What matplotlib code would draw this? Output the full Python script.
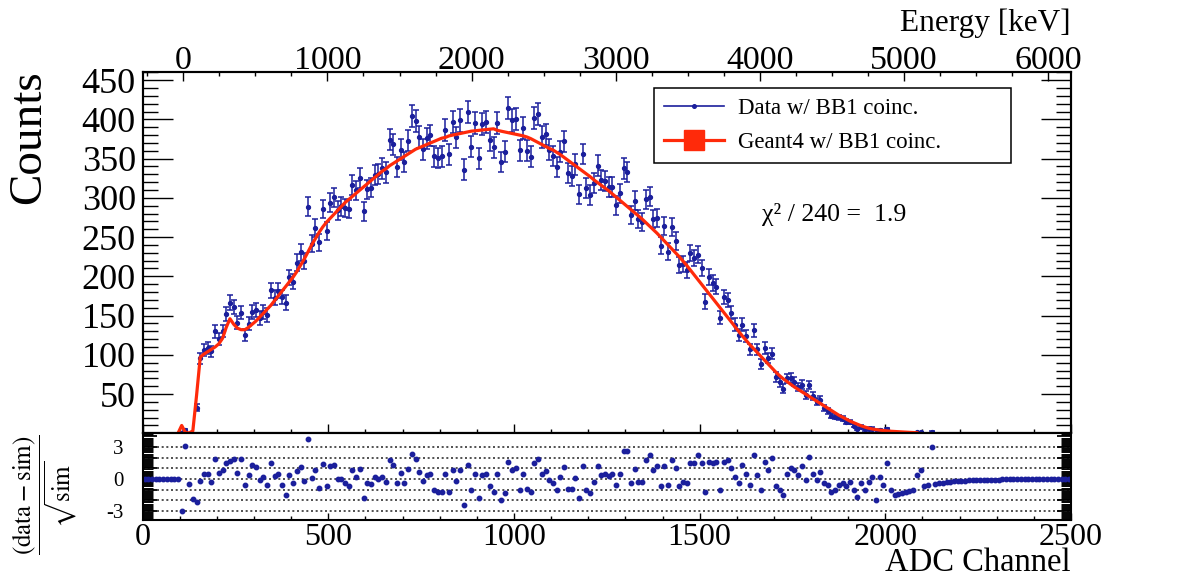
import numpy as np
import matplotlib.pyplot as plt
from matplotlib.lines import Line2D
from matplotlib.ticker import MultipleLocator, FixedLocator, FixedFormatter

plt.rcParams['font.family'] = ['Liberation Serif', 'DejaVu Serif']
plt.rcParams['mathtext.fontset'] = 'stix'

# ADC bins, 10 channels wide (bin centres)
adc = np.arange(5, 2500, 10)

# Geant4 spectrum with BB1 coincidence, counts per bin
sim = np.array([
    0, 0, 0, 0, 0, 0, 0, 0, 0, 0,
    10, 1, 0.5, 3, 48, 97, 101, 104, 107, 110,
    114, 121, 135, 146, 139, 134, 132, 132, 135, 139,
    143, 148, 153, 158, 163, 169, 175, 181, 187, 193,
    199, 206, 214, 222, 231, 240, 248, 256, 263, 269,
    274, 279, 284, 289, 294, 298, 302, 306, 310, 314,
    318, 322, 326, 330, 334, 337, 341, 344, 347, 350,
    353, 356, 359, 362, 364, 366, 368, 370, 372, 374,
    376, 377, 379, 380, 381, 382, 383, 384, 385, 385.5,
    386, 386.5, 387, 387.5, 388, 386, 385, 384, 383, 382,
    381, 380, 379, 377.5, 375.5, 373, 370.5, 368, 365.5, 363,
    361, 358, 355, 351.5, 348, 344.5, 341, 337.5, 334, 330.5,
    327, 323, 319.5, 316, 312.5, 309, 305, 301, 297, 293,
    289, 285, 281, 277, 273, 268.5, 264, 259.5, 255, 250,
    245, 240, 235, 230, 225, 219.5, 214, 208, 202, 196,
    190, 184, 178, 172, 166, 160, 154, 148, 142, 136,
    130, 124, 118.5, 113, 108, 103, 98, 93, 88, 83,
    78, 73.5, 69.5, 66, 62.5, 59, 56, 53, 50, 47,
    44, 41, 38, 35, 32, 29, 26, 23, 20.5, 18,
    15.5, 13.5, 11.5, 9.5, 8, 6.5, 5.5, 4.7, 4.0, 3.5,
    3.0, 2.6, 2.3, 2.0, 1.7, 1.45, 1.2, 1.0, 0.8, 0.62,
    0.48, 0.36, 0.27, 0.2, 0.15, 0.11, 0.08, 0.06, 0.045, 0.034,
    0.026, 0.02, 0.015, 0.012, 0.009, 0.007, 0.0055, 0.0043, 0.0034, 0.0027,
    0.0021, 0.0017, 0.0014, 0.0011, 0.0009, 0.0007, 0.0006, 0.0005, 0.0004, 0.0003,
    0.0003, 0.0002, 0.0002, 0.0002, 0.0001, 0.0001, 0.0001, 0.0001, 0.0001, 0.0001,
])

# (data - sim) / sqrt(sim) per bin
pull = np.array([
    0, 0, 0, 0, 0, 0, 0, 0, 0, 0,
    -3.0, 3.1, -0.5, -1.9, -2.2, -0.15, 0.5, 0.45, -0.25, 1.9,
    0.6, 0.85, 1.5, 1.7, 1.9, 0.6, 1.9, -0.56, 0.4, 1.3,
    1.15, -0.1, 0.15, -0.56, 1.5, 0.3, 0.5, -0.56, -1.5, 0.4,
    -0.4, 0.8, 1.15, -0.15, 3.8, 0.1, 0.85, -0.8, 1.4, -0.7,
    1.2, 1.3, 0.0, 0.0, -0.4, -0.7, 0.85, 0.2, 0.9, -1.75,
    -0.4, -0.5, 0.2, 0.0, 0.2, -0.25, 1.8, 1.3, -0.4, 0.6,
    -0.4, 0.9, 2.4, 1.9, 0.7, -0.2, 0.4, 0.5, -1.0, -1.2,
    -1.2, 0.5, -1.2, 0.85, -0.2, 0.85, -2.4, 1.3, -1.0, 0.5,
    -1.8, 0.4, 0.5, -0.7, -1.2, 0.5, -2.0, -1.3, 1.6, 0.85,
    1.0, -1.0, 0.5, -0.9, -1.2, 1.5, 1.9, 0.5, 0.8, -0.1,
    -0.4, -1.0, 0.2, 1.1, -0.9, -0.9, 0.1, -1.8, 1.2, -1.0,
    -1.3, -0.25, 1.2, 0.4, 0.5, 0.3, 0.5, -0.6, 0.5, 2.6,
    2.6, -0.4, 0.9, -0.25, -0.25, 1.8, 2.3, 0.85, 1.2, -0.7,
    1.2, -0.56, 1.8, 1.0, -0.7, -0.25, -0.4, 1.5, 1.5, 2.25,
    1.5, -1.2, 1.6, 1.5, 1.6, -1.0, 1.6, 1.8, 1.0, 0.2,
    -0.4, 1.3, 0.5, -0.56, 2.25, 0.4, -1.0, 1.6, 0.85, 2.0,
    -0.7, -1.0, -1.5, 0.5, 1.0, 0.85, 0.4, 1.2, -0.1, 2.1,
    0.5, -0.1, 0.7, -0.4, -0.56, -1.2, -1.0, -0.56, -0.4, -0.7,
    -0.25, -1.0, -1.7, -0.4, -1.0, -0.25, 0.2, -2.0, 0.2, -0.6,
    1.5, -1.0, -1.5, -1.4, -1.3, -1.2, -1.1, -1.0, 0.4, 0.85,
    -0.7, -0.6, 3.0, -0.45, -0.39, -0.33, -0.28, -0.24, -0.21, -0.18,
    -0.16, -0.14, -0.12, -0.11, -0.095, -0.084, -0.074, -0.066, -0.058, -0.052,
    -0.046, -0.041, -0.037, -0.033, -0.03, -0.027, -0.024, -0.022, -0.02, -0.018,
    -0.016, -0.015, -0.014, -0.013, -0.012, -0.011, -0.01, -0.01, -0.009, -0.009,
])

# energy calibration used for the top axis
kev_per_channel = 2.576
zero_channel = 109.3
# per-event weight of the data histogram (sets the error bars)
weight = 0.5

data = np.clip(sim + pull * np.sqrt(sim), 0, None)
err = np.sqrt(weight * data)

BLUE = '#1b1f9c'
RED = '#ff2a0a'

W, H = 1188, 577
fig = plt.figure(figsize=(W / 100, H / 100), dpi=100)


def fx(px):
    return px / W


def fy(py):
    return 1 - py / H


left, right = 142.7, 1071
top, mid, bottom = 72.3, 433.3, 520
ax = fig.add_axes([fx(left), fy(mid), fx(right) - fx(left), fy(top) - fy(mid)])
axr = fig.add_axes([fx(left), fy(bottom), fx(right) - fx(left), fy(mid) - fy(bottom)])

# main panel: data with error bars and simulation curve
shown = data > 0.3
ax.errorbar(adc[shown], data[shown], yerr=err[shown], fmt='o', ms=2.8,
            color=BLUE, ecolor=BLUE, elinewidth=1.1, capsize=2.0,
            capthick=1.1, zorder=2)
curve = (adc >= 95) & (adc <= 2090)
ax.plot(adc[curve], sim[curve], color=RED, lw=2.3, zorder=3)

ax.set_xlim(0, 2500)
ax.set_ylim(0, 460)
ax.xaxis.set_major_locator(MultipleLocator(500))
ax.xaxis.set_minor_locator(MultipleLocator(100))
ax.yaxis.set_major_locator(FixedLocator(range(50, 451, 50)))
ax.yaxis.set_minor_locator(MultipleLocator(10))
ax.tick_params(axis='x', which='both', direction='in', bottom=True, top=False,
               labelbottom=False)
ax.tick_params(axis='x', which='major', length=6.7, width=1.0)
ax.tick_params(axis='x', which='minor', length=3.2, width=1.0)
ax.tick_params(axis='y', which='both', direction='in', left=True, right=True,
               labelsize=26, pad=5)
ax.tick_params(axis='y', which='major', length=21.6, width=1.0)
ax.tick_params(axis='y', which='minor', length=10.8, width=1.0)

# top energy axis
axe = ax.twiny()
axe.set_xlim(-zero_channel * kev_per_channel,
             (2500 - zero_channel) * kev_per_channel)
axe.xaxis.set_major_locator(MultipleLocator(1000))
axe.xaxis.set_minor_locator(MultipleLocator(250))
axe.tick_params(axis='x', which='both', direction='in', top=True, bottom=False,
                labeltop=True, labelbottom=False, labelsize=24.5, pad=-3)
axe.tick_params(axis='x', which='major', length=6.7, width=1.0)
axe.tick_params(axis='x', which='minor', length=3.1, width=1.0)

# lower panel: normalised residuals
for lvl in range(-3, 4):
    axr.axhline(lvl, color='#333333', lw=1.2, ls=(0, (1.2, 1.6)), zorder=0)
axr.plot(adc, pull, 'o', ms=3.2, color=BLUE, ls='none', zorder=2)
axr.set_xlim(0, 2500)
axr.set_ylim(-3.85, 4.3)
axr.xaxis.set_major_locator(MultipleLocator(500))
axr.xaxis.set_minor_locator(MultipleLocator(100))
axr.tick_params(axis='x', which='both', direction='in', top=False,
                labelsize=23, pad=2.5)
axr.tick_params(axis='x', which='major', length=5, width=1.0)
axr.tick_params(axis='x', which='minor', length=3, width=1.0)
levels = [-3, -2, -1, 0, 1, 2, 3, 4]
axr.yaxis.set_major_locator(FixedLocator(levels))
axr.yaxis.set_major_formatter(FixedFormatter(['-3', '', '', '0', '', '', '3', '']))
axr.yaxis.set_minor_locator(MultipleLocator(0.1))
axr.tick_params(axis='y', which='both', direction='in', left=True, right=True,
                labelsize=15, pad=14)
axr.tick_params(axis='y', which='major', length=10, width=1.3)
axr.tick_params(axis='y', which='minor', length=7, width=0.7)

for a in (ax, axr, axe):
    for s in a.spines.values():
        s.set_linewidth(1.5)

# legend
handles = [
    Line2D([], [], color=BLUE, lw=1.2, marker='o', ms=2.6),
    Line2D([], [], color=RED, lw=2.3, marker='s', ms=14),
]
labels = ['Data w/ BB1 coinc.', 'Geant4 w/ BB1 coinc.']
leg = ax.legend(handles, labels, loc='upper left',
                bbox_to_anchor=(fx(654), fy(87.7), fx(1010.5) - fx(654), 0),
                bbox_transform=fig.transFigure, mode='expand',
                fancybox=False, edgecolor='black', framealpha=1,
                fontsize=16.5, handlelength=2.6, handletextpad=0.6,
                borderpad=0.45, labelspacing=0.55, borderaxespad=0)
leg.get_frame().set_linewidth(1.1)

fig.text(fx(762), fy(221), 'χ² / 240 =  1.9', ha='left', va='baseline',
         fontsize=18.5)

fig.text(fx(29), fy(137), 'Counts', rotation=90, ha='center', va='center',
         fontsize=34)
fig.text(fx(1071), fy(31), 'Energy [keV]', ha='right', va='baseline',
         fontsize=22.5)
fig.text(fx(1071), fy(571), 'ADC Channel', ha='right', va='baseline',
         fontsize=23.5)
fig.text(fx(45), fy(494.5),
         r'$\dfrac{\mathrm{(data - sim)}}{\sqrt{\mathrm{sim}}}$',
         rotation=90, ha='center', va='center', fontsize=18)

fig.savefig('out.png', dpi=100)
